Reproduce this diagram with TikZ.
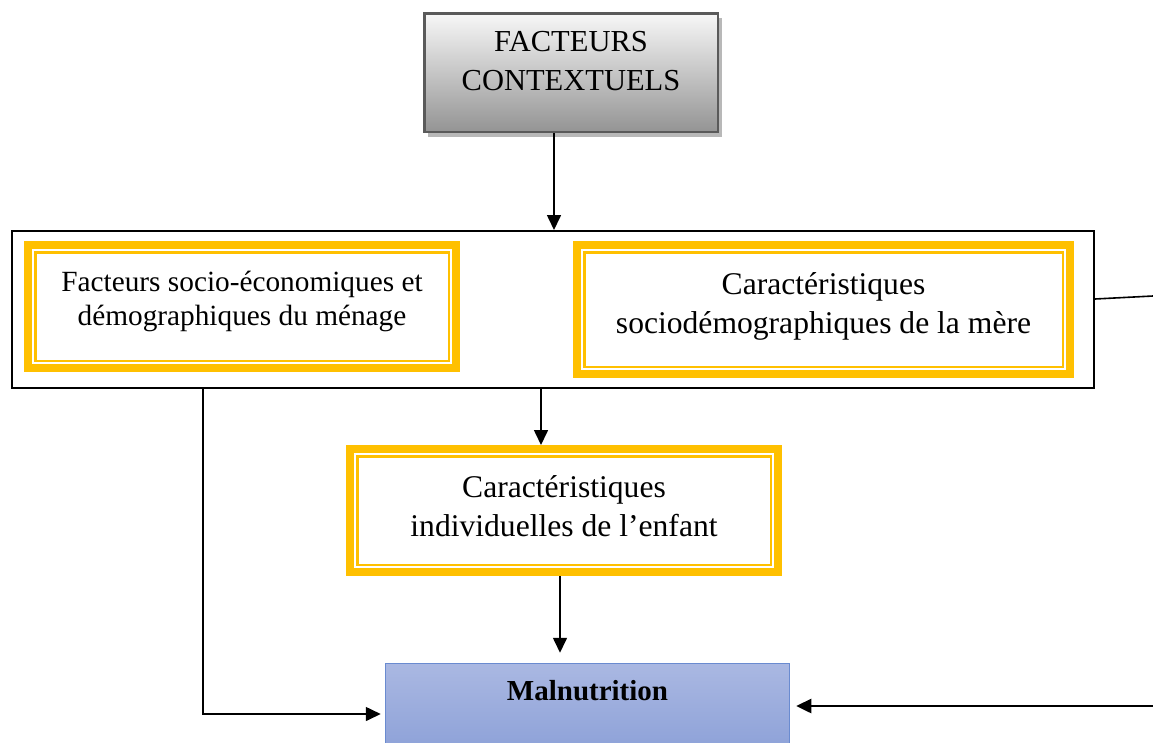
\documentclass[tikz,border=0pt]{standalone}
\usepackage{fontspec}
\setmainfont{Liberation Serif}
\usetikzlibrary{arrows.meta,shadows}
\definecolor{ybox}{HTML}{FFC000}
\definecolor{malline}{HTML}{6A8BD0}
\definecolor{maltop}{HTML}{AAB8E2}
\definecolor{malbot}{HTML}{8A9FD7}
\definecolor{topborder}{HTML}{5A5A5A}
\begin{document}
\begin{tikzpicture}[x=1pt,y=-1pt,
  line/.style={line width=1.6pt, draw=black},
  arr/.style={line, -{Triangle[length=15pt,width=14pt]}},
  yellowbox/.style={draw=ybox, line width=8pt, fill=white, inner sep=0pt},
  innerline/.style={draw=ybox, line width=2.5pt},
  txt/.style={align=center, inner sep=0pt, text=black},
  bodyfont/.style={font=\fontsize{31.6}{39}\selectfont},
]
\clip (0,0) rectangle (1153,742);
\fill[white] (0,0) rectangle (1153,742);

% top box
\node[draw=topborder, line width=2.5pt, top color=black!3, bottom color=black!42,
      minimum width=293.5pt, minimum height=118.5pt, inner sep=0pt,
      drop shadow={shadow xshift=4pt, shadow yshift=-5pt, fill=black!28, opacity=1}]
      (top) at (571,72.5) {};
\node[txt, font=\fontsize{30.5}{39}\selectfont] (toptxt) at ([yshift=11pt]top.center) {FACTEURS\\CONTEXTUELS};

% big frame
\node[draw=black, line width=2pt, minimum width=1082pt, minimum height=157pt, inner sep=0pt] (big) at (553,309.5) {};

% left yellow box
\node[yellowbox, minimum width=428pt, minimum height=123pt] (hh) at (242,306.5) {};
\draw[innerline] ([shift={(11.25,11.25)}]hh.north west) rectangle ([shift={(-11.25,-11.25)}]hh.south east);
\node[txt, font=\fontsize{29.3}{34.5}\selectfont] (hhtxt) at ([yshift=5pt]hh.center) {Facteurs socio-économiques et\\démographiques du ménage};

% right yellow box
\node[yellowbox, minimum width=493pt, minimum height=129pt] (mere) at (823.5,309.5) {};
\draw[innerline] ([shift={(11.25,11.25)}]mere.north west) rectangle ([shift={(-11.25,-11.25)}]mere.south east);
\node[txt, bodyfont] (meretxt) at ([yshift=3pt]mere.center) {Caractéristiques\\sociodémographiques de la mère};

% child box
\node[yellowbox, minimum width=428pt, minimum height=123pt] (child) at (564,510.5) {};
\draw[innerline] ([shift={(11.25,11.25)}]child.north west) rectangle ([shift={(-11.25,-11.25)}]child.south east);
\node[txt, bodyfont] (childtxt) at ([yshift=4.6pt]child.center) {Caractéristiques\\individuelles de l’enfant};

% malnutrition
\node[draw=malline, line width=1.5pt, top color=maltop, bottom color=malbot,
      minimum width=404pt, minimum height=96pt, inner sep=0pt] (mal) at (587.5,711.5) {};
\node[txt, font=\fontsize{29}{35}\selectfont\bfseries] (maltxt) at ([yshift=20.5pt]mal.center) {Malnutrition};

% connectors
\coordinate (c1) at (554,0);
\coordinate (c2) at (541,0);
\coordinate (c3) at (560,0);
\coordinate (lx) at (203,714);
\coordinate (rin) at (1153,706);
\coordinate (rout) at (1153,296);
\coordinate (rb) at (0,299);

\draw[arr] (top.south -| c1) -- (big.north -| c1);
\draw[arr] (big.south -| c2) -- (child.north -| c2);
\draw[arr, shorten >=10pt] (child.south -| c3) -- (mal.north -| c3);
\draw[arr, shorten >=4pt] (big.south -| lx) |- (mal.west |- lx);
\draw[arr, line width=2.5pt, shorten >=6pt] (rin) -- (mal.east |- rin);
\draw[line] (big.east |- rb) -- (rout);
\end{tikzpicture}
\end{document}
